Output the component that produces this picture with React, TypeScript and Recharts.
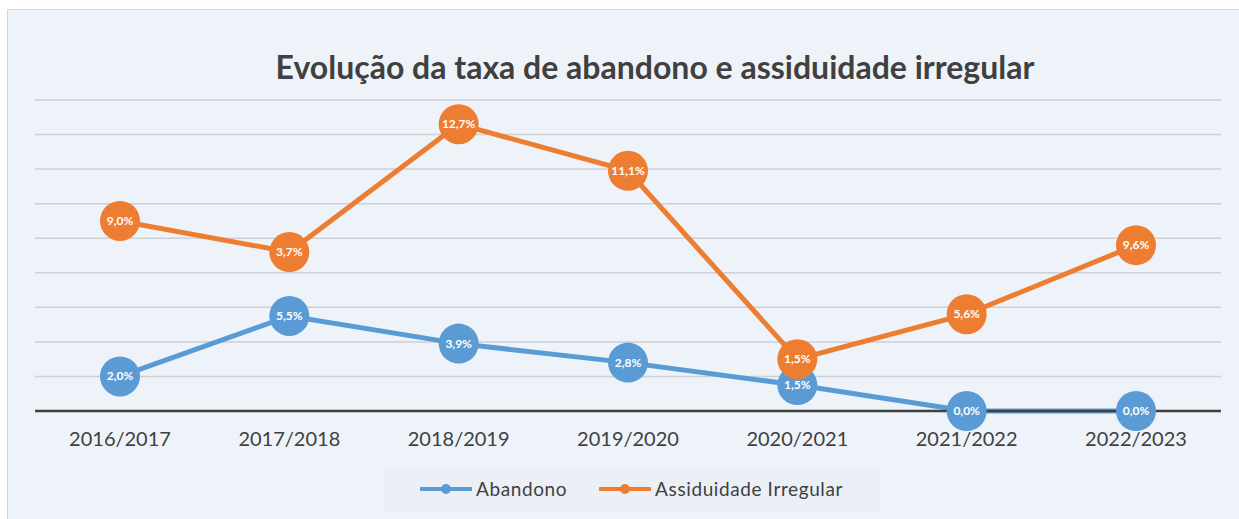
import React from "react";
import { LineChart, Line, XAxis, YAxis, CartesianGrid } from "recharts";

// school years on the x axis
const years = ["2016/2017", "2017/2018", "2018/2019", "2019/2020", "2020/2021", "2021/2022", "2022/2023"];
// rates in %
const abandono = [2.0, 5.5, 3.9, 2.8, 1.5, 0.0, 0.0];
const assiduidade = [9.0, 3.7, 12.7, 11.1, 1.5, 5.6, 9.6];
const yTicks = [0, 2, 4, 6, 8, 10, 12, 14, 16, 18];

const BLUE = "#5b9bd5";
const ORANGE = "#ed7d31";
const TEXT = "#404040";
const FONT = "Lato, 'Open Sans', sans-serif";

// the original is a stacked line chart: orange sits on top of blue
const data = years.map((year, i) => ({
  year,
  abandono: abandono[i],
  assiduidade: assiduidade[i],
  assiduidadeStack: +(abandono[i] + assiduidade[i]).toFixed(1),
}));

const fmt = (v: number) => v.toFixed(1).replace(".", ",") + "%";

const makeLabel = (values: number[]) => (props: any) => {
  const { x, y, index } = props;
  return (
    <text
      x={x}
      y={y}
      dy={4}
      textAnchor="middle"
      fill="#ffffff"
      fontSize={12}
      fontWeight={700}
      fontFamily={FONT}
    >
      {fmt(values[index])}
    </text>
  );
};

const LegendItem = ({ color, label }: { color: string; label: string }) => (
  <div style={{ display: "flex", alignItems: "center", marginRight: 32 }}>
    <svg width={52} height={12} style={{ marginRight: 4 }}>
      <line x1={1} y1={6} x2={51} y2={6} stroke={color} strokeWidth={4} strokeLinecap="round" />
      <circle cx={26} cy={6} r={5} fill={color} />
    </svg>
    <span>{label}</span>
  </div>
);

export default function App() {
  return (
    <div style={{ position: "absolute", left: 0, top: 0, width: 1239, height: 519, background: "#ffffff", overflow: "hidden" }}>
      <div
        style={{
          position: "absolute",
          left: 7,
          top: 9,
          width: 1250,
          height: 520,
          background: "#eef3fa",
          border: "1.5px solid #d4d4d4",
          boxSizing: "border-box",
        }}
      />
      <div
        style={{
          position: "absolute",
          left: 0,
          width: 1310,
          top: 47,
          textAlign: "center",
          fontFamily: FONT,
          fontWeight: 700,
          fontSize: 32,
          color: TEXT,
        }}
      >
        Evolução da taxa de abandono e assiduidade irregular
      </div>

      <div style={{ position: "absolute", left: 0, top: 0 }}>
        <LineChart width={1239} height={519} data={data} margin={{ top: 100, right: 18, bottom: 78, left: 35 }}>
          <CartesianGrid horizontal vertical={false} stroke="#cdd1d6" strokeWidth={1.5} />
          <XAxis
            dataKey="year"
            height={30}
            padding={{ left: 85, right: 85 }}
            axisLine={{ stroke: TEXT, strokeWidth: 2.5 }}
            tickLine={false}
            tickMargin={15}
            tick={{ fill: TEXT, fontSize: 20, fontFamily: FONT }}
          />
          <YAxis hide domain={[0, 18]} ticks={yTicks} />
          <Line
            dataKey="abandono"
            stroke={BLUE}
            strokeWidth={5}
            dot={{ r: 20, fill: BLUE, stroke: BLUE, strokeWidth: 0 }}
            activeDot={false}
            label={makeLabel(abandono)}
            isAnimationActive={false}
          />
          <Line
            dataKey="assiduidadeStack"
            stroke={ORANGE}
            strokeWidth={5}
            dot={{ r: 20, fill: ORANGE, stroke: ORANGE, strokeWidth: 0 }}
            activeDot={false}
            label={makeLabel(assiduidade)}
            isAnimationActive={false}
          />
        </LineChart>
      </div>

      <div
        style={{
          position: "absolute",
          left: 384,
          top: 467,
          width: 496,
          height: 46,
          background: "#ebf0f6",
        }}
      />
      <div
        style={{
          position: "absolute",
          left: 420,
          top: 477,
          display: "flex",
          fontFamily: FONT,
          fontSize: 19,
          letterSpacing: 0.6,
          color: TEXT,
        }}
      >
        <LegendItem color={BLUE} label="Abandono" />
        <LegendItem color={ORANGE} label="Assiduidade Irregular" />
      </div>
    </div>
  );
}
